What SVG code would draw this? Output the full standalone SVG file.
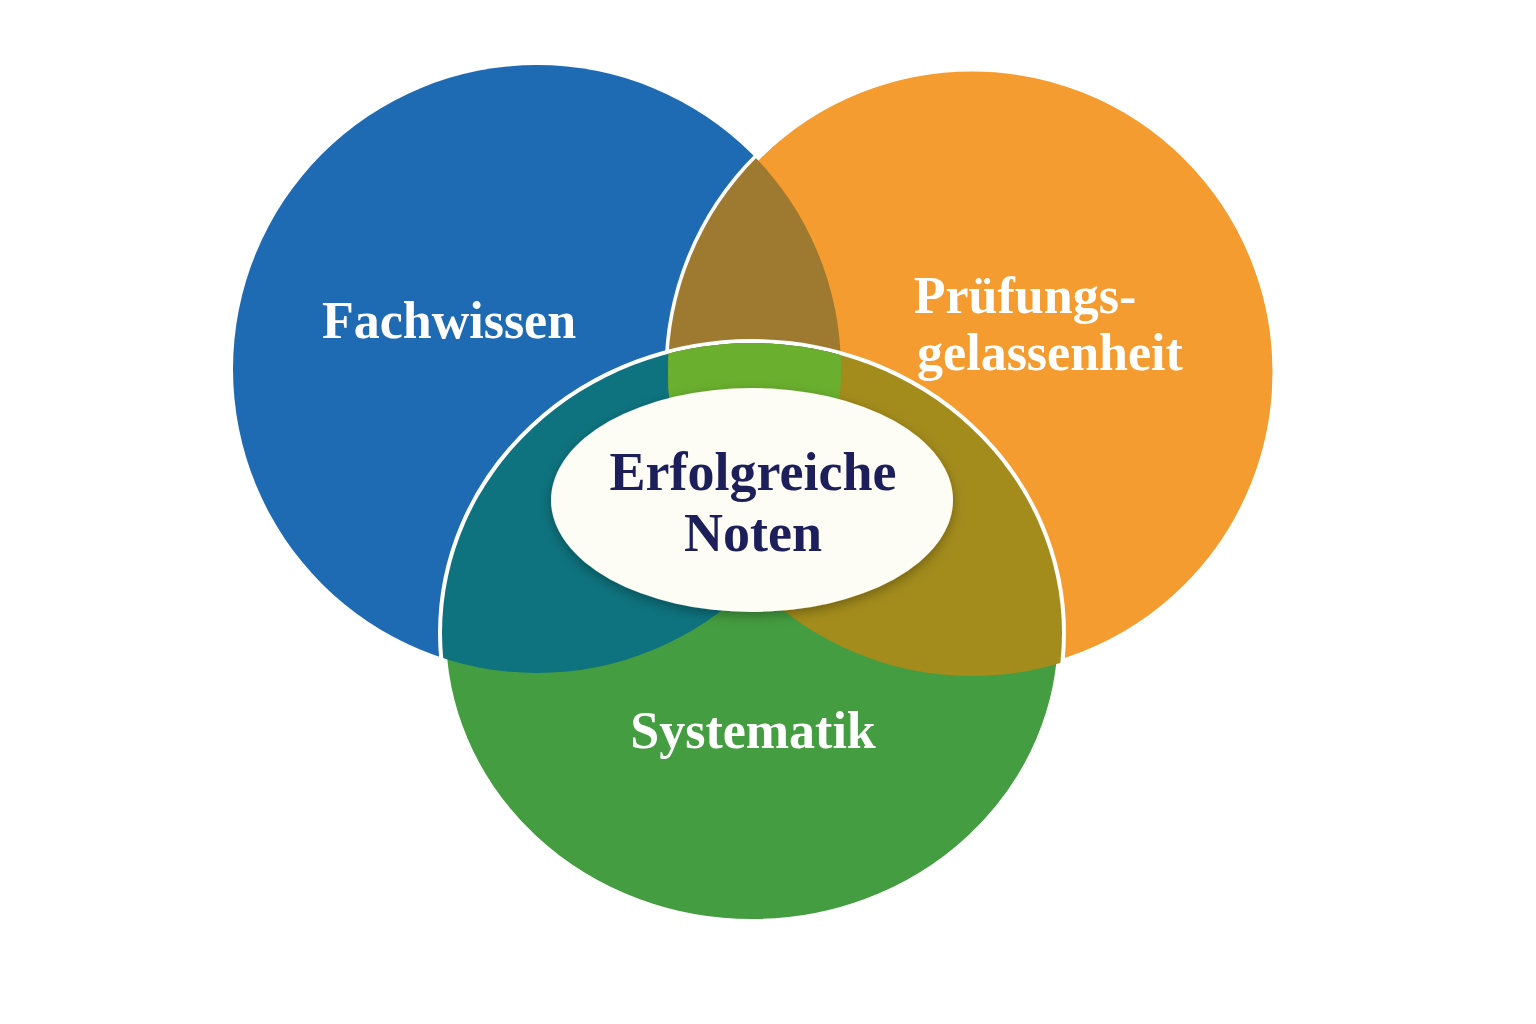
<svg xmlns="http://www.w3.org/2000/svg" width="1536" height="1024" viewBox="0 0 1536 1024">
<defs>
<clipPath id="cb"><circle cx="537" cy="369" r="304"/></clipPath>
<clipPath id="co"><circle cx="972" cy="372" r="304"/></clipPath>
<clipPath id="cg"><ellipse cx="752" cy="633" rx="310" ry="290"/></clipPath>
<filter id="sh" x="-20%" y="-20%" width="140%" height="140%"><feDropShadow dx="0" dy="4" stdDeviation="6" flood-color="#000" flood-opacity="0.3"/></filter>
</defs>
<style>
.lbl{font-family:"Liberation Serif","DejaVu Serif",serif;font-weight:bold;font-size:52px;fill:#fff;text-anchor:middle}
.ctr{font-family:"Liberation Serif","DejaVu Serif",serif;font-weight:bold;font-size:54px;fill:#1c1f5a;text-anchor:middle}
</style>
<rect width="1536" height="1024" fill="#fff"/>
<g id="blue"><circle cx="537" cy="369" r="304" fill="#1f6bb3"/></g>
<g id="orange"><circle cx="972" cy="372" r="304" fill="#f59c30" stroke="#fff" stroke-width="7"/></g>
<g id="blue-orange"><g clip-path="url(#cb)"><circle cx="972" cy="372" r="304" fill="#9e7a30"/></g></g>
<g id="green"><ellipse cx="752" cy="633" rx="310" ry="290" fill="#449d40" stroke="#fff" stroke-width="8"/></g>
<g id="overlaps">
<g clip-path="url(#cg)"><circle cx="537" cy="369" r="304" fill="#0e737e"/><circle cx="972" cy="372" r="304" fill="#a38c1c"/>
<g clip-path="url(#cb)"><circle cx="972" cy="372" r="304" fill="#6aaf2e"/></g></g>
</g>
<g id="center"><ellipse cx="752" cy="500" rx="201" ry="112" fill="#fdfcf5" filter="url(#sh)"/>
<text class="ctr" x="753" y="490">Erfolgreiche</text><text class="ctr" x="753" y="551">Noten</text></g>
<text class="lbl" x="449" y="338">Fachwissen</text>
<text class="lbl" x="1025" y="313">Prüfungs-</text>
<text class="lbl" x="1050" y="370">gelassenheit</text>
<text class="lbl" x="753" y="748">Systematik</text>
</svg>
